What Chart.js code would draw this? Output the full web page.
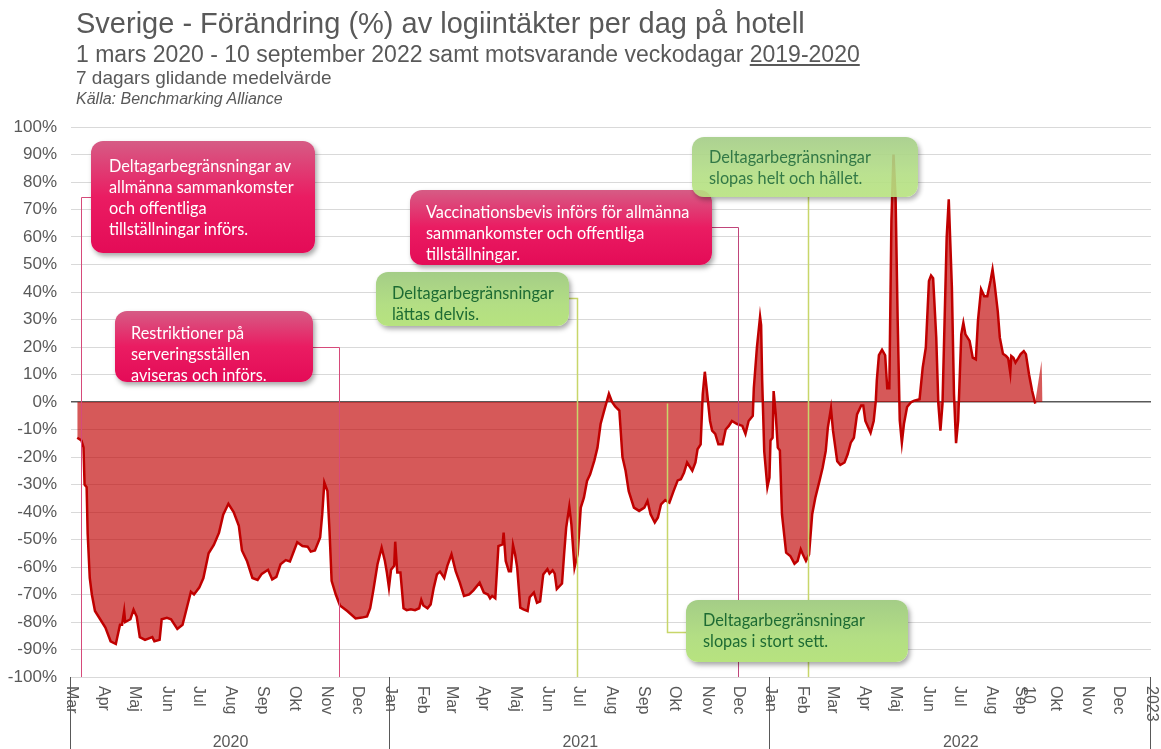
<!DOCTYPE html>
<html lang="sv">
<head>
    <meta charset="UTF-8">
    <title>Sverige - Förändring (%) av logiintäkter per dag på hotell</title>
    <script src="https://cdn.jsdelivr.net/npm/chart.js"></script>
    <style>
        body { margin: 0; background: #fff; overflow: hidden; }
        .ram { position: relative; width: 1161px; height: 749px; }
        #diagram { position: absolute; left: 0; top: 0; }
        .rubrik { position: absolute; left: 76px; color: #595959; font-family: "Liberation Sans", Arial, sans-serif; white-space: nowrap; line-height: 1; }
        .ruta { position: absolute; box-sizing: border-box; border-radius: 12px; font-family: Lato, "Noto Sans", sans-serif; font-size: 16.3px; line-height: 21px; box-shadow: 2px 3px 5px rgba(0,0,0,0.35); white-space: nowrap; }
        .rosa { background: linear-gradient(to bottom, #d65c85 0%, #ea1c62 50%, #e40b57 100%); color: #fff; }
        .gron { background: linear-gradient(to bottom, #a4cd87 0%, #b3de84 60%, #b7e37f 100%); color: #1d6b33; }
    </style>
</head>
<body>
<div class="ram">
    <canvas id="diagram" width="1161" height="749"></canvas>

    <div class="rubrik" style="top:9px; font-size:29px;">Sverige - Förändring (%) av logiintäkter per dag på hotell</div>
    <div class="rubrik" style="top:43px; font-size:23px;">1 mars 2020 - 10 september 2022 samt motsvarande veckodagar <u>2019-2020</u></div>
    <div class="rubrik" style="top:68px; font-size:19px;">7 dagars glidande medelvärde</div>
    <div class="rubrik" style="top:91px; font-size:16px; font-style:italic;">Källa: Benchmarking Alliance</div>

    <div class="ruta rosa" style="left:91px; top:141px; width:224px; height:112px; padding:14px 0 0 18px;">Deltagarbegränsningar av<br>allmänna sammankomster<br>och offentliga<br>tillställningar införs.</div>
    <div class="ruta rosa" style="left:115px; top:311px; width:198px; height:71px; padding:11px 0 0 16px;">Restriktioner på<br>serveringsställen<br>aviseras och införs.</div>
    <div class="ruta rosa" style="left:410px; top:190px; width:302px; height:75px; padding:11px 0 0 16px;">Vaccinationsbevis införs för allmänna<br>sammankomster och offentliga<br>tillställningar.</div>
    <div class="ruta gron" style="left:376px; top:272px; width:193px; height:54px; padding:10px 0 0 16px;">Deltagarbegränsningar<br>lättas delvis.</div>
    <div class="ruta gron" style="left:692px; top:137px; width:226px; height:60px; padding:9px 0 0 17px; opacity:0.9;">Deltagarbegränsningar<br>slopas helt och hållet.</div>
    <div class="ruta gron" style="left:686px; top:600px; width:222px; height:62px; padding:9px 0 0 17px;">Deltagarbegränsningar<br>slopas i stort sett.</div>
</div>

<script>
    // dag = antal dagar efter 1 mars 2020, förändring i procent (7 dagars glidande)
    var dagar = [
        6, 10, 12, 13, 15, 16, 18, 20, 23, 28, 33, 38, 43, 47, 49, 51, 52, 57, 60, 63,
        66, 71, 78, 80, 85, 87, 92, 96, 102, 107, 111, 115, 118, 123, 127, 132, 137, 142, 146, 151,
        156, 161, 164, 169, 174, 179, 183, 189, 193, 197, 201, 206, 210, 214, 217, 222, 227, 230, 234, 239,
        241, 243, 246, 248, 250, 254, 258, 265, 273, 279, 284, 287, 290, 294, 298, 301, 303, 305, 307, 310,
        311, 313, 316, 319, 322, 326, 330, 334, 336, 338, 342, 345, 348, 351, 354, 358, 361, 365, 369, 373,
        377, 382, 386, 392, 396, 400, 402, 404, 407, 410, 414, 415, 417, 420, 422, 424, 426, 428, 431, 434,
        438, 440, 444, 447, 450, 453, 457, 459, 462, 464, 466, 471, 473, 475, 478, 480, 483, 486, 489, 492,
        495, 498, 502, 505, 508, 511, 516, 519, 522, 526, 529, 532, 535, 540, 545, 550, 553, 556, 560, 563,
        566, 570, 574, 578, 582, 585, 588, 591, 596, 599, 601, 604, 606, 608, 610, 613, 615, 618, 621, 625,
        628, 631, 634, 639, 644, 647, 650, 654, 655, 658, 661, 662, 663, 665, 668, 670, 671, 673, 674, 676,
        678, 680, 682, 686, 690, 694, 697, 700, 702, 705, 708, 711, 714, 718, 721, 724, 726, 729, 731, 735,
        738, 742, 745, 748, 751, 754, 758, 760, 762, 767, 770, 772, 773, 775, 778, 781, 783, 785, 787, 789,
        791, 793, 795, 797, 799, 802, 806, 809, 814, 817, 820, 823, 825, 827, 830, 832, 834, 836, 838, 840,
        842, 845, 847, 849, 851, 854, 856, 858, 862, 865, 868, 870, 873, 876, 879, 882, 884, 886, 889, 891,
        894, 897, 899, 901, 902, 904, 906, 909, 911, 914, 916, 919, 922, 925
    ];
    var forandring = [
        -13, -14, -16.5, -30, -31, -48, -64, -70, -76, -79, -82, -87, -88, -81, -81, -76, -80, -79, -75.5, -78,
        -85.5, -86.5, -85.5, -87, -86.5, -79, -78.5, -79, -82.5, -81, -75, -69, -70, -67.5, -64, -55, -52, -47.5, -41, -37,
        -40, -45, -54, -58, -64, -64.7, -62.5, -61, -64.5, -63.6, -59, -57.5, -58, -54, -51, -52.4, -52.6, -54.4, -54, -49.3,
        -40.8, -29.3, -32.4, -47, -65, -70, -74, -76, -78.7, -78.4, -78, -75, -68.5, -59, -53, -57.6, -62, -67.5, -61, -59.6,
        -50.8, -62, -62, -75, -75.7, -75.4, -75.7, -75, -72, -74, -75, -73.6, -67.5, -62.7, -61.7, -64, -59.6, -55.4, -61.5, -65.7,
        -70.5, -70, -68.5, -65.7, -69.3, -70, -71.4, -70.5, -71.4, -52.4, -51.8, -47.5, -57.8, -61.5, -61.5, -52, -55.4, -60.2, -74.8, -75.4,
        -76, -71, -69.3, -73, -72.5, -62.7, -60.8, -62.4, -61.2, -62.4, -68, -66, -55.4, -45.7, -38, -44.5, -60.2, -55.4, -38.4, -34.8,
        -28.7, -26.3, -21.3, -16.6, -8, -3.8, 3, 0, -1.6, -3.1, -20, -25, -32.4, -38.4, -39.6, -38.4, -36, -40.8, -43.8, -42,
        -37.2, -35.7, -36.6, -32.4, -28.5, -28.1, -25.7, -22, -25, -22, -17.2, -15.4, 2.8, 11, 4, -6.9, -10.4, -11.6, -15.4, -15.4,
        -10, -8.7, -6.9, -8, -8.7, -11.6, -6.9, -5, 5, 20, 31, 28, 8, -18, -31, -27.5, -14, -13, 4, -4.4,
        -16.6, -17.6, -40.8, -54.8, -56, -58.8, -57.8, -53.6, -55.4, -57.8, -55.4, -40.8, -34.8, -28.7, -23.9, -17.8, -9.3, -2.3, -10.5, -21.5,
        -22.9, -22, -19, -14.8, -13, -4.5, -1.3, -1.3, -6.9, -11.2, -6.9, 0.4, 8, 17, 19, 17, 5, 5, 66, 90,
        74, 29.5, -6.7, -14.8, -8, -1.8, 0, 0.5, 1, 12.5, 19.8, 44, 46, 45, 23.4, -0.6, -10.4, -0.6, 29.5, 59.8,
        73.7, 41.6, 3, -15, -6.9, 24.6, 28.8, 24.6, 22.2, 16.1, 15.5, 29.5, 41, 38.5, 38.5, 44, 48.2, 42.8, 33, 23.4,
        17.5, 16.7, 15.9, 10.6, 16.7, 16.1, 14.3, 16.1, 17.4, 18.5, 17.4, 10, 4, -0.6
    ];
    // liten yta efter sista värdet
    var extraDagar = [925, 931, 932];
    var extraVarden = [0, 15, 0];

    var manadsNamn = ['Jan', 'Feb', 'Mar', 'Apr', 'Maj', 'Jun', 'Jul', 'Aug', 'Sep', 'Okt', 'Nov', 'Dec'];
    var arEtiketter = [2020, 2021, 2022];
    var yTicks = [-100, 100, 10];

    // händelser: dag för linjen och var den möter rutan
    var handelser = [
        { dag: 10, farg: '#d64a7a', bredd: 1, kantX: 91, kantY: 197, till: -100 },
        { dag: 257, farg: '#d64a7a', bredd: 1, kantX: 313, kantY: 347, till: -100 },
        { dag: 640, farg: '#c0457a', bredd: 1, kantX: 712, kantY: 227, till: -100 },
        { dag: 485, farg: '#c8d66a', bredd: 1.5, kantX: 569, kantY: 298, till: -100 },
        { dag: 707, farg: '#c8d66a', bredd: 1.5, kantX: null, kantY: 197, till: -100 },
        { dag: 572, farg: '#c8d66a', bredd: 1.5, kantX: 686, kantY: 632, till: 0 }
    ];

    var start = Date.UTC(2020, 2, 1);
    function dagNr(ar, man) {
        return Math.round((Date.UTC(ar, man, 1) - start) / 86400000);
    }

    var axelPlugin = {
        id: 'axel',
        afterDatasetsDraw: function (chart) {
            var ctx = chart.ctx;
            var xs = chart.scales.x, ys = chart.scales.y;
            ctx.save();
            handelser.forEach(function (h) {
                var x = Math.round(xs.getPixelForValue(h.dag)) + 0.5;
                var yEnd = ys.getPixelForValue(h.till) + (h.till === 0 ? 1.5 : 0);
                ctx.strokeStyle = h.farg;
                ctx.lineWidth = h.bredd;
                ctx.beginPath();
                if (h.kantX !== null) {
                    ctx.moveTo(h.kantX, h.kantY + 0.5);
                    ctx.lineTo(x, h.kantY + 0.5);
                } else {
                    ctx.moveTo(x, h.kantY);
                }
                ctx.lineTo(x, yEnd);
                ctx.stroke();
            });
            ctx.restore();
        },
        afterDraw: function (chart) {
            var ctx = chart.ctx;
            var xs = chart.scales.x;
            var botten = chart.chartArea.bottom;
            ctx.save();

            // årsavdelare
            ctx.strokeStyle = '#595959';
            ctx.lineWidth = 1;
            [dagNr(2020, 2), dagNr(2021, 0), dagNr(2022, 0), dagNr(2023, 0)].forEach(function (d) {
                var x = Math.round(xs.getPixelForValue(d)) - 0.5;
                ctx.beginPath();
                ctx.moveTo(x, botten);
                ctx.lineTo(x, chart.height);
                ctx.stroke();
            });

            ctx.fillStyle = '#595959';
            ctx.font = '16px "Liberation Sans", Arial, sans-serif';
            ctx.textBaseline = 'middle';
            ctx.textAlign = 'left';

            function rotText(text, x) {
                ctx.save();
                ctx.translate(x, botten + 9);
                ctx.rotate(Math.PI / 2);
                ctx.fillText(text, 0, 0);
                ctx.restore();
            }

            arEtiketter.forEach(function (ar) {
                for (var m = (ar === 2020 ? 2 : 0); m < 12; m++) {
                    var x = xs.getPixelForValue(dagNr(ar, m));
                    if (ar === 2022 && m === 8) {
                        rotText('10', x + 5);
                        rotText(manadsNamn[m], x - 3);
                    } else {
                        rotText(manadsNamn[m], x);
                    }
                }
            });
            rotText('2023', xs.getPixelForValue(dagNr(2023, 0)));

            ctx.textAlign = 'center';
            arEtiketter.forEach(function (ar) {
                var a = xs.getPixelForValue(ar === 2020 ? dagNr(2020, 2) : dagNr(ar, 0));
                var b = xs.getPixelForValue(dagNr(ar + 1, 0));
                ctx.fillText(String(ar), (a + b) / 2, 743);
            });
            ctx.restore();
        }
    };

    var fyllning = 'rgba(192, 0, 0, 0.65)';

    new Chart(document.getElementById('diagram'), {
        type: 'line',
        data: {
            datasets: [{
                data: dagar.map(function (d, i) { return { x: d, y: forandring[i] }; }),
                borderColor: '#c00000',
                borderWidth: 2.5,
                backgroundColor: fyllning,
                fill: 'origin',
                pointRadius: 0,
                tension: 0
            }, {
                data: extraDagar.map(function (d, i) { return { x: d, y: extraVarden[i] }; }),
                borderWidth: 0,
                borderColor: 'rgba(0,0,0,0)',
                backgroundColor: fyllning,
                fill: 'origin',
                pointRadius: 0,
                tension: 0
            }]
        },
        options: {
            responsive: false,
            animation: false,
            devicePixelRatio: 1,
            layout: { padding: { top: 127, right: 10, left: 0, bottom: 0 } },
            plugins: { legend: { display: false }, tooltip: { enabled: false } },
            scales: {
                x: {
                    type: 'linear',
                    min: 0,
                    max: dagNr(2023, 0),
                    ticks: { display: false },
                    grid: { display: false },
                    border: { display: false },
                    afterFit: function (s) { s.height = 72; }
                },
                y: {
                    min: yTicks[0],
                    max: yTicks[1],
                    ticks: {
                        stepSize: yTicks[2],
                        callback: function (v) { return v + '%'; },
                        color: '#595959',
                        font: { family: '"Liberation Sans", Arial, sans-serif', size: 17 },
                        padding: 14
                    },
                    grid: {
                        color: function (c) { return c.tick && c.tick.value === 0 ? '#595959' : '#d9d9d9'; },
                        lineWidth: function (c) { return c.tick && c.tick.value === 0 ? 1.5 : 1; },
                        drawTicks: false
                    },
                    border: { display: false },
                    afterFit: function (s) { s.width = 71; }
                }
            }
        },
        plugins: [axelPlugin]
    });
</script>
</body>
</html>
